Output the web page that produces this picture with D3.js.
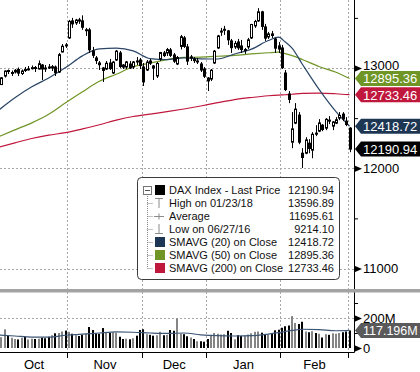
<!DOCTYPE html>
<html>
<head>
<meta charset="utf-8">
<script src="https://cdn.jsdelivr.net/npm/d3@7"></script>
<style>
body { margin: 0; background: #fff; }
svg { display: block; font-family: "Liberation Sans", Arial, sans-serif; }
</style>
</head>
<body>
<svg id="chart" width="420" height="372"></svg>
<script>
// trading days, 29 Sep 2017 - 1 Mar 2018
let dates = ["09/29","10/02","10/04","10/05","10/06","10/09","10/10","10/11","10/12","10/13","10/16","10/17","10/18","10/19","10/20","10/23","10/24","10/25","10/26","10/27","10/30",
"11/01","11/02","11/03","11/06","11/07","11/08","11/09","11/10","11/13","11/14","11/15","11/16","11/17","11/20","11/21","11/22","11/23","11/24","11/27","11/28","11/29","11/30",
"12/01","12/04","12/05","12/06","12/07","12/08","12/11","12/12","12/13","12/14","12/15","12/18","12/19","12/20","12/21","12/22","12/27","12/28","12/29",
"01/02","01/03","01/04","01/05","01/08","01/09","01/10","01/11","01/12","01/15","01/16","01/17","01/18","01/19","01/22","01/23","01/24","01/25","01/26","01/29","01/30","01/31",
"02/01","02/02","02/05","02/06","02/07","02/08","02/09","02/12","02/13","02/14","02/15","02/16","02/19","02/20","02/21","02/22","02/23","02/26","02/27","02/28",
"03/01"];

let open = [12770,12835,12920,12975,12950,12960,12985,12945,12985,12990,13000,13005,12990,13030,13000,13010,13000,13010,12960,13160,13230,
13300,13470,13450,13480,13470,13380,13380,13170,13100,13050,13000,12990,13050,12950,13080,13150,13030,13010,13040,13010,13070,13080,
13010,12980,13070,13020,12920,13090,13150,13150,13180,13130,13040,13215,13300,13210,13100,13090,13060,13040,12990,
12900,12890,13050,13200,13360,13380,13370,13270,13210,13260,13220,13180,13210,13300,13420,13470,13560,13410,13310,13340,13290,13220,
13200,12950,12740,12260,12450,12530,12150,12150,12250,12180,12350,12370,12430,12400,12480,12420,12450,12500,12540,12470,
12400];
let high = [12835,12910,12975,12985,12975,12990,13005,12985,13010,13020,13025,13020,13075,13040,13030,13040,13030,13025,13150,13240,13250,
13480,13500,13490,13500,13525,13400,13400,13210,13120,13070,13010,13070,13090,13070,13180,13170,13040,13070,13070,13070,13110,13100,
13050,13080,13090,13030,13060,13160,13170,13200,13200,13150,13120,13330,13320,13240,13130,13110,13100,13060,13010,
12910,12990,13180,13330,13400,13420,13380,13290,13270,13290,13280,13200,13300,13440,13480,13597,13570,13440,13360,13370,13300,13260,
13230,12980,12770,12560,12650,12560,12200,12310,12290,12360,12430,12490,12440,12500,12520,12470,12510,12560,12560,12510,
12410];
let low = [12740,12830,12905,12940,12920,12945,12920,12930,12960,12975,12985,12960,12985,12880,12960,12990,12970,12920,12950,13155,13200,
13290,13400,13430,13440,13380,13320,13150,13100,13040,12980,12860,12980,12980,12940,13070,13000,12990,12990,12990,12990,13030,12990,
12820,12970,13030,12880,12900,13070,13110,13120,13110,13050,13030,13185,13200,13030,13070,13050,13040,12960,12900,
12770,12870,13040,13190,13320,13330,13230,13150,13190,13180,13150,13140,13190,13290,13400,13460,13380,13270,13290,13300,13150,13150,
12990,12770,12650,12200,12440,12240,12003,12140,12150,12100,12320,12360,12370,12380,12440,12380,12440,12480,12470,12420,
12160];
let close = [12828,12902,12970,12968,12955,12977,12949,12970,12982,12991,13003,12995,13043,12990,12991,13003,13013,12953,13133,13217,13229,
13465,13440,13478,13468,13406,13382,13182,13127,13074,13033,12976,13047,12994,13059,13168,13015,13009,13060,13000,13060,13062,13024,
12861,13059,13049,12999,13045,13154,13124,13184,13126,13068,13104,13312,13216,13069,13110,13073,13070,12980,12918,
12871,12978,13168,13320,13368,13386,13281,13203,13245,13201,13184,13184,13281,13434,13464,13560,13415,13298,13340,13324,13198,13189,
13004,12785,12687,12393,12590,12260,12107,12283,12197,12339,12346,12452,12386,12488,12470,12462,12484,12527,12491,12436,
12190.94];
// volume, millions
let volume = [75,72,124,80,68,60,57,68,75,57,62,60,62,68,65,75,85,98,100,110,116,
108,95,85,80,88,95,140,120,98,95,133,105,100,105,102,75,60,62,58,65,82,120,
125,92,88,82,85,108,85,88,120,115,197,95,92,78,70,60,45,45,42,
60,88,100,95,90,92,115,100,58,85,80,82,90,98,108,110,102,92,88,95,118,122,
135,145,150,213,167,160,175,110,105,112,100,95,70,92,88,98,95,100,105,110,
117];

// moving averages read at sample days
let maDates = ["09/29","10/09","10/16","10/23","10/30","11/07","11/14","11/21","11/28","12/05","12/12","12/19","12/28","01/05","01/12","01/19","01/26","01/31","02/02","02/06","02/09","02/16","02/23","03/01"];
let sma20 = [12574,12703,12812,12901,13004,13121,13190,13198,13171,13094,13084,13102,13092,13090,13140,13188,13274,13307,13259,13198,13040,12786,12564,12418.72];
let sma50 = [12312,12383,12453,12539,12653,12763,12867,12938,13012,13049,13084,13105,13109,13117,13126,13140,13152,13158,13143,13124,13085,13015,12957,12895.36];
let sma200 = [12208,12253,12297,12330,12355,12392,12434,12480,12516,12540,12564,12591,12621,12654,12685,12706,12723,12730,12733,12738,12746,12750,12743,12733.46];
let volAvg = [87,80,73,72,85,92,100,107,105,100,97,100,88,82,80,82,93,102,110,117,125,122,115,117.196];

let monthNames = ["Oct", "Nov", "Dec", "Jan", "Feb"];
let monthKeys = ["10", "11", "12", "01", "02", "03"];

let priceTicks = [11000, 12000, 13000];
let priceMinor = [11500, 12500, 13500];

let legendLabels = ["DAX Index - Last Price", "High on 01/23/18", "Average", "Low on 06/27/16",
  "SMAVG (20) on Close", "SMAVG (50) on Close", "SMAVG (200) on Close"];
let legendValues = ["12190.94", "13596.89", "11695.61", "9214.10", "12418.72", "12895.36", "12733.46"];

let navy = "#2a4565", green = "#6f9526", red = "#c0173d";

let width = 420;
let height = 372;
let plotRight = 354;
let priceBottom = 288;
let volTop = 293;
let volBottom = 352;

let svg = d3.select("#chart");

let x = d3.scalePoint().domain(dates).range([-2, 349.5]);
let y = d3.scaleLinear().domain([11000, 13000]).range([268.5, 68]);
let yVol = d3.scaleLinear().domain([0, 200]).range([348, 318]);

let defs = svg.append("defs");
defs.append("clipPath").attr("id", "clipPrice")
  .append("rect").attr("x", 0).attr("y", 0).attr("width", plotRight).attr("height", priceBottom);
defs.append("clipPath").attr("id", "clipVol")
  .append("rect").attr("x", 0).attr("y", volTop).attr("width", plotRight).attr("height", volBottom - volTop);

// month boundaries and centres
let monthIdx = monthKeys.map(k => dates.map((d, i) => d.slice(0, 2) == k ? i : -1).filter(i => i >= 0));
let boundaries = [];
for (let m = 1; m < monthIdx.length; m++) {
  let prevLast = monthIdx[m - 1][monthIdx[m - 1].length - 1];
  let first = monthIdx[m][0];
  boundaries.push((x(dates[prevLast]) + x(dates[first])) / 2);
}
let centers = monthNames.map((n, m) => {
  let idx = monthIdx[m];
  return (x(dates[idx[0]]) + x(dates[idx[idx.length - 1]])) / 2;
});

// grid
let grid = svg.append("g").attr("stroke", "#a8a8a8").attr("stroke-dasharray", "2,2").attr("stroke-width", 1);
grid.selectAll(".hg").data(priceTicks).enter().append("line")
  .attr("x1", 0).attr("x2", plotRight)
  .attr("y1", d => Math.round(y(d)) + 0.5).attr("y2", d => Math.round(y(d)) + 0.5);
grid.append("line").attr("x1", 0).attr("x2", plotRight)
  .attr("y1", Math.round(yVol(200)) + 0.5).attr("y2", Math.round(yVol(200)) + 0.5);
grid.selectAll(".vg").data(boundaries).enter().append("line")
  .attr("x1", d => Math.round(d) + 0.5).attr("x2", d => Math.round(d) + 0.5)
  .attr("y1", 0).attr("y2", volBottom);

// moving averages
let line = d3.line()
  .x((d, i) => x(maDates[i]))
  .y(d => y(d))
  .curve(d3.curveMonotoneX);

let priceG = svg.append("g").attr("clip-path", "url(#clipPrice)");
[[sma200, red], [sma50, green], [sma20, navy]].forEach(s => {
  priceG.append("path").datum(s[0]).attr("d", line)
    .attr("fill", "none").attr("stroke", s[1]).attr("stroke-width", 1.2);
});

// candles
let candles = priceG.selectAll(".candle").data(dates).enter().append("g");
candles.append("line")
  .attr("x1", d => Math.round(x(d)) + 0.5).attr("x2", d => Math.round(x(d)) + 0.5)
  .attr("y1", (d, i) => y(high[i])).attr("y2", (d, i) => y(low[i]))
  .attr("stroke", "#000").attr("stroke-width", 1);
candles.append("rect")
  .attr("x", d => Math.round(x(d)) - 0.5)
  .attr("width", 2)
  .attr("y", (d, i) => y(Math.max(open[i], close[i])))
  .attr("height", (d, i) => Math.max(1, Math.abs(y(open[i]) - y(close[i]))))
  .attr("fill", (d, i) => close[i] >= open[i] ? "#fff" : "#000")
  .attr("stroke", "#000").attr("stroke-width", 1);

// volume
let volG = svg.append("g").attr("clip-path", "url(#clipVol)");
volG.selectAll(".vbar").data(dates).enter().append("rect")
  .attr("x", d => Math.round(x(d)) - 1)
  .attr("width", 2)
  .attr("y", (d, i) => yVol(volume[i]))
  .attr("height", (d, i) => yVol(0) - yVol(volume[i]))
  .attr("fill", (d, i) => close[i] >= open[i] ? "#858585" : "#000");
volG.append("path").datum(volAvg)
  .attr("d", d3.line().x((d, i) => x(maDates[i])).y(d => yVol(d)).curve(d3.curveMonotoneX))
  .attr("fill", "none").attr("stroke", "#3c5676").attr("stroke-width", 1.2);

// axes lines
svg.append("line").attr("x1", plotRight + 0.5).attr("x2", plotRight + 0.5)
  .attr("y1", 0).attr("y2", volBottom + 0.5).attr("stroke", "#000");
svg.append("line").attr("x1", 0).attr("x2", plotRight + 0.5)
  .attr("y1", volBottom + 0.5).attr("y2", volBottom + 0.5).attr("stroke", "#000");
svg.append("rect").attr("x", 0).attr("y", 289).attr("width", width).attr("height", 3.5).attr("fill", "#a3a3a3");

// right price axis
let yAxis = d3.axisRight(y).tickValues(priceTicks).tickSize(0).tickPadding(9).tickFormat(d3.format("d"));
let yAxisG = svg.append("g").attr("transform", "translate(" + plotRight + ",0)").call(yAxis);
yAxisG.select(".domain").remove();
yAxisG.selectAll("text").attr("font-size", 13).attr("fill", "#000").attr("font-family", "Liberation Sans, Arial, sans-serif");
// top label sits just above the SMA(50) tag
yAxisG.selectAll("text").filter(d => d == 13000).attr("dy", "0.1em");
yAxisG.selectAll(".tick").append("path").attr("d", "M0,-3.5L8,0L0,3.5Z").attr("fill", "#000");

let yMinor = d3.axisRight(y).tickValues(priceMinor).tickSize(4).tickFormat("");
let yMinorG = svg.append("g").attr("transform", "translate(" + plotRight + ",0)").call(yMinor);
yMinorG.select(".domain").remove();

// right volume axis
let vAxis = d3.axisRight(yVol).tickValues([0, 200]).tickSize(0).tickPadding(9).tickFormat(d => d ? d + "M" : "0");
let vAxisG = svg.append("g").attr("transform", "translate(" + plotRight + ",0)").call(vAxis);
vAxisG.select(".domain").remove();
vAxisG.selectAll("text").attr("font-size", 13).attr("fill", "#000").attr("font-family", "Liberation Sans, Arial, sans-serif");
vAxisG.selectAll(".tick").append("path").attr("d", "M0,-3.5L8,0L0,3.5Z").attr("fill", "#000");
let vMinorG = svg.append("g").attr("transform", "translate(" + plotRight + ",0)")
  .call(d3.axisRight(yVol).tickValues([100, 300]).tickSize(4).tickFormat(""));
vMinorG.select(".domain").remove();

// month axis
svg.selectAll(".mtick").data(boundaries).enter().append("line")
  .attr("x1", d => Math.round(d) + 0.5).attr("x2", d => Math.round(d) + 0.5)
  .attr("y1", volBottom).attr("y2", volBottom + 6).attr("stroke", "#000");
let mScale = d3.scaleOrdinal().domain(monthNames).range(centers);
let xAxisG = svg.append("g").attr("transform", "translate(0," + volBottom + ")")
  .call(d3.axisBottom(mScale).tickSize(0).tickPadding(8));
xAxisG.select(".domain").remove();
xAxisG.selectAll("text").attr("font-size", 13).attr("fill", "#000").attr("font-family", "Liberation Sans, Arial, sans-serif");

// value tags
let tag = (val, color, label, scale, fs) => {
  let c = scale(val);
  svg.append("path")
    .attr("d", "M" + (plotRight + 1) + "," + c + "L" + (plotRight + 7) + "," + (c - 7.5) + "L" + width + "," + (c - 7.5)
      + "L" + width + "," + (c + 7.5) + "L" + (plotRight + 7) + "," + (c + 7.5) + "Z")
    .attr("fill", color);
  svg.append("text").attr("x", plotRight + 9).attr("y", c + 5)
    .attr("font-size", fs).attr("fill", "#fff").text(label);
};
tag(sma50[sma50.length - 1], green, d3.format(".2f")(sma50[sma50.length - 1]), y, 13);
tag(sma200[sma200.length - 1], red, d3.format(".2f")(sma200[sma200.length - 1]), y, 13);
tag(sma20[sma20.length - 1], "#1d3654", d3.format(".2f")(sma20[sma20.length - 1]), y, 13);
tag(close[close.length - 1], "#000", d3.format(".2f")(close[close.length - 1]), y, 13);
tag(volAvg[volAvg.length - 1], "#5a5a5a", d3.format(".3f")(volAvg[volAvg.length - 1]) + "M", yVol, 12.5);

// legend
let lg = svg.append("g");
lg.append("rect").attr("x", 137.5).attr("y", 177.5).attr("width", 202).attr("height", 102)
  .attr("rx", 4).attr("fill", "#fff").attr("stroke", "#3a3a3a");
let rowY = d3.scalePoint().domain(legendLabels).range([190, 268]);
lg.append("line").attr("x1", 147.5).attr("x2", 147.5).attr("y1", 194).attr("y2", 268.5)
  .attr("stroke", "#888").attr("stroke-dasharray", "1,1");
lg.selectAll(".branch").data(legendLabels.slice(1)).enter().append("line")
  .attr("x1", 147.5).attr("x2", 153).attr("y1", d => rowY(d) + 0.5).attr("y2", d => rowY(d) + 0.5)
  .attr("stroke", "#888").attr("stroke-dasharray", "1,1");
lg.append("rect").attr("x", 143.5).attr("y", 186.5).attr("width", 8).attr("height", 8)
  .attr("fill", "#fff").attr("stroke", "#777");
lg.append("line").attr("x1", 145).attr("x2", 150).attr("y1", 190.5).attr("y2", 190.5).attr("stroke", "#555");

let swatch = [["#000", 0], ["#1d3654", 4], [green, 5], [red, 6]];
swatch.forEach(s => {
  lg.append("rect").attr("x", 155).attr("y", rowY(legendLabels[s[1]]) - 5).attr("width", 10).attr("height", 10).attr("fill", s[0]);
});
let icon = lg.append("g").attr("stroke", "#8a8a8a").attr("fill", "none");
let r2 = rowY(legendLabels[1]), r3 = rowY(legendLabels[2]), r4 = rowY(legendLabels[3]);
icon.append("path").attr("d", "M155,"+(r2-4.5)+"H163M159,"+(r2-4.5)+"V"+(r2+5));
icon.append("path").attr("d", "M154,"+(r3+0.5)+"H164M159,"+(r3-2.5)+"V"+(r3+3.5));
icon.append("path").attr("d", "M159,"+(r4-5)+"V"+(r4+4.5)+"M155,"+(r4+4.5)+"H163");

lg.selectAll(".ltext").data(legendLabels).enter().append("text")
  .attr("x", 169).attr("y", d => rowY(d) + 4)
  .attr("font-size", 11).attr("fill", "#111").text(d => d);
lg.selectAll(".lval").data(legendValues).enter().append("text")
  .attr("x", 334).attr("y", (d, i) => rowY(legendLabels[i]) + 4)
  .attr("text-anchor", "end").attr("font-size", 11).attr("fill", "#111").text(d => d);
</script>
</body>
</html>
